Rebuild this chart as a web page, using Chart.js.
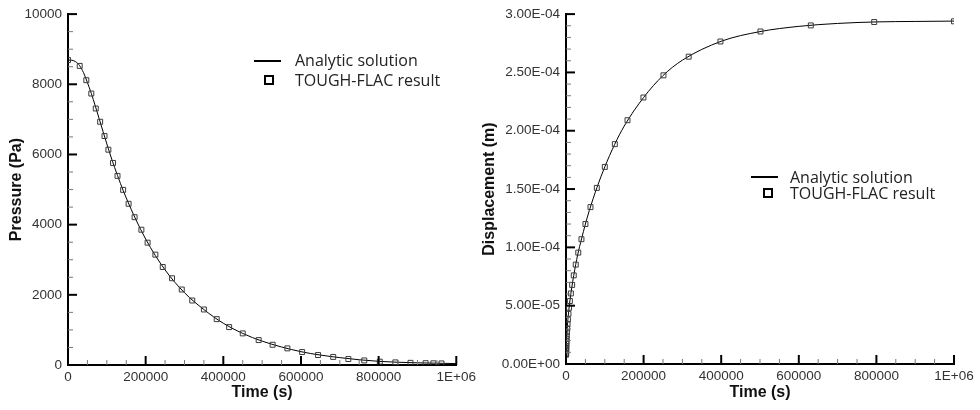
<!DOCTYPE html>
<html>
<head>
<meta charset="utf-8">
<script src="https://cdn.jsdelivr.net/npm/chart.js@4.4.1/dist/chart.umd.min.js"></script>
<style>
  body { margin: 0; background: #fff; width: 980px; height: 410px; overflow: hidden; position: relative; }
  canvas { position: absolute; top: 0; }
  .lg { position: absolute; font-family: 'Open Sans', sans-serif; font-size: 16px; line-height: 20px; color: #222; white-space: nowrap; }
  .ln { position: absolute; height: 2px; width: 27px; background: #000; }
  .sq { position: absolute; width: 6px; height: 6px; border: 2px solid #000; }
</style>
</head>
<body>
<canvas id="pressureChart" width="480" height="410" style="left:0"></canvas>
<canvas id="dispChart" width="500" height="410" style="left:480px"></canvas>

<div class="ln" style="left:254px;top:60px"></div>
<div class="lg" style="left:295px;top:50px">Analytic solution</div>
<div class="sq" style="left:264px;top:75px"></div>
<div class="lg" style="left:295px;top:70px">TOUGH-FLAC result</div>

<div class="ln" style="left:751px;top:176px"></div>
<div class="lg" style="left:790px;top:167px">Analytic solution</div>
<div class="sq" style="left:763px;top:188px"></div>
<div class="lg" style="left:790px;top:183px">TOUGH-FLAC result</div>

<script>
// tick labels
const timeTicks = ['0', '200000', '400000', '600000', '800000', '1E+06'];
const pressureTicks = ['0', '2000', '4000', '6000', '8000', '10000'];
const dispTicks = ['0.00E+00', '5.00E-05', '1.00E-04', '1.50E-04', '2.00E-04', '2.50E-04', '3.00E-04'];

// pressure - analytic
const pAnaTime = [0, 10000, 20000, 30000, 40000, 50000, 60000, 80000, 100000, 120000, 150000, 200000,
  250000, 300000, 350000, 400000, 450000, 500000, 600000, 700000, 800000, 900000, 1000000];
const pAnaValue = [8690, 8685, 8640, 8530, 8330, 8050, 7740, 7030, 6300, 5630, 4760, 3590,
  2710, 2060, 1580, 1190, 900, 680, 380, 210, 105, 62, 40];

// pressure - TOUGH-FLAC
const pSimTime = [0, 30200, 47200, 60000, 71500, 82800, 94000, 104000, 116000, 127500, 142000, 156000,
  171500, 189000, 205000, 225000, 244000, 268000, 293000, 320000, 350000, 383000, 415000, 450000,
  491000, 527000, 565000, 603000, 644000, 683000, 722000, 763000, 803000, 843000, 882000, 921000, 941000, 962000];
const pSimValue = [8690, 8523, 8116, 7736, 7310, 6932, 6525, 6136, 5758, 5389, 4991, 4594,
  4213, 3855, 3486, 3145, 2793, 2472, 2151, 1838, 1582, 1307, 1080, 901,
  710, 577, 474, 369, 284, 230, 170, 130, 95, 75, 62, 52, 48, 45];

// displacement - analytic
const dAnaTime = [0, 200, 500, 1000, 2000, 5000, 10000, 20000, 30000, 40000, 50000, 60000, 80000,
  100000, 125000, 150000, 200000, 250000, 300000, 400000, 500000, 600000, 700000, 800000, 900000, 1000000];
const dAnaValue = [0, 0.8e-5, 1.22e-5, 1.72e-5, 2.42e-5, 3.83e-5, 5.4e-5, 7.6e-5, 9.35e-5, 1.072e-4, 1.2e-4, 1.315e-4, 1.515e-4,
  1.69e-4, 1.88e-4, 2.04e-4, 2.285e-4, 2.473e-4, 2.605e-4, 2.767e-4, 2.85e-4, 2.895e-4, 2.92e-4, 2.933e-4, 2.937e-4, 2.94e-4];

// displacement - TOUGH-FLAC
const dSimTime = [200, 251, 316, 398, 501, 631, 794, 1000, 1259, 1585, 1995, 2512, 3162, 3981, 5012, 6310, 7943,
  10000, 12589, 15849, 19953, 25119, 31623, 39811, 50119, 63096, 79433, 100000, 125893, 158489, 199526,
  251189, 316228, 398107, 501187, 630957, 794328, 1000000];
const dSimValue = [0.8e-5, 0.87e-5, 0.97e-5, 1.09e-5, 1.22e-5, 1.37e-5, 1.53e-5, 1.72e-5, 1.93e-5, 2.16e-5, 2.42e-5, 2.72e-5, 3.05e-5, 3.42e-5, 3.83e-5, 4.3e-5, 4.82e-5,
  5.4e-5, 6.05e-5, 6.78e-5, 7.6e-5, 8.52e-5, 9.55e-5, 1.07e-4, 1.2e-4, 1.345e-4, 1.51e-4, 1.69e-4, 1.885e-4, 2.09e-4, 2.285e-4,
  2.475e-4, 2.635e-4, 2.765e-4, 2.851e-4, 2.903e-4, 2.932e-4, 2.938e-4];

const pts = (xs, ys) => xs.map((x, i) => ({ x: x, y: ys[i] }));

// inward major/minor ticks like the original plot
const innerTicks = {
  id: 'innerTicks',
  afterDraw(chart, args, opts) {
    const ctx = chart.ctx, area = chart.chartArea;
    ctx.save();
    const one = (scale, step, isX) => {
      const n = Math.round((scale.max - scale.min) / step);
      for (let i = 0; i <= n; i++) {
        const v = scale.min + i * step;
        const major = scale.ticks.some(t => Math.abs(t.value - v) < step / 10);
        const p = scale.getPixelForValue(v);
        const len = major ? 9 : 5;
        ctx.beginPath();
        ctx.lineWidth = major ? 2 : 1;
        ctx.strokeStyle = major ? '#000' : '#777';
        if (isX) { ctx.moveTo(p, area.bottom); ctx.lineTo(p, area.bottom - len); }
        else { ctx.moveTo(area.left, p); ctx.lineTo(area.left + len, p); }
        ctx.stroke();
      }
    };
    one(chart.scales.x, opts.xMinor, true);
    one(chart.scales.y, opts.yMinor, false);
    ctx.restore();
  }
};

const tickFont = { family: 'Liberation Sans, Arial, sans-serif', size: 13.5 };
const titleFont = { family: 'Liberation Sans, Arial, sans-serif', size: 16, weight: 'bold' };

function makeChart(id, ana, sim, cfg) {
  return new Chart(document.getElementById(id), {
    type: 'line',
    data: {
      datasets: [{
        label: 'TOUGH-FLAC result',
        data: sim,
        showLine: false,
        pointStyle: 'rect',
        pointRadius: 3.5,
        pointBorderWidth: 1,
        pointBorderColor: '#3a3a3a',
        pointBackgroundColor: 'rgba(255,255,255,0)'
      }, {
        label: 'Analytic solution',
        data: ana,
        borderColor: '#000',
        borderWidth: 1,
        pointRadius: 0,
        cubicInterpolationMode: 'monotone'
      }]
    },
    options: {
      responsive: false,
      animation: false,
      layout: { padding: { left: 0, top: cfg.top, right: cfg.right, bottom: 0 } },
      plugins: {
        legend: { display: false },
        tooltip: { enabled: false },
        innerTicks: { xMinor: 50000, yMinor: cfg.yMinor }
      },
      scales: {
        x: {
          type: 'linear', min: 0, max: 1000000,
          grid: { display: false, drawTicks: false },
          border: { color: '#000', width: 2 },
          ticks: { stepSize: 200000, color: '#333', font: tickFont, padding: 4, maxRotation: 0,
                   callback: (v, i) => timeTicks[i] },
          title: { display: true, text: 'Time (s)', color: '#111', font: titleFont, padding: { top: 0, bottom: 8 } },
          afterFit: s => { s.height = cfg.xHeight; }
        },
        y: {
          type: 'linear', min: 0, max: cfg.yMax,
          grid: { display: false, drawTicks: false },
          border: { color: '#000', width: 2 },
          ticks: { stepSize: cfg.yStep, color: '#333', font: tickFont, padding: 6,
                   callback: (v, i) => cfg.yLabels[i] },
          title: { display: true, text: cfg.yTitle, color: '#111', font: titleFont, padding: { top: cfg.titlePad, bottom: 0 } },
          afterFit: s => { s.width = cfg.yWidth; }
        }
      }
    },
    plugins: [innerTicks]
  });
}

makeChart('pressureChart', pts(pAnaTime, pAnaValue), pts(pSimTime, pSimValue), {
  top: 13, right: 23, xHeight: 45, yWidth: 68, yMax: 10000, yStep: 2000, yMinor: 500,
  yLabels: pressureTicks, yTitle: 'Pressure (Pa)', titlePad: 7
});

makeChart('dispChart', pts(dAnaTime, dAnaValue), pts(dSimTime, dSimValue), {
  top: 11, right: 26, xHeight: 46, yWidth: 86, yMax: 3e-4, yStep: 5e-5, yMinor: 1e-5,
  yLabels: dispTicks, yTitle: 'Displacement (m)', titlePad: 0
});
</script>
</body>
</html>
